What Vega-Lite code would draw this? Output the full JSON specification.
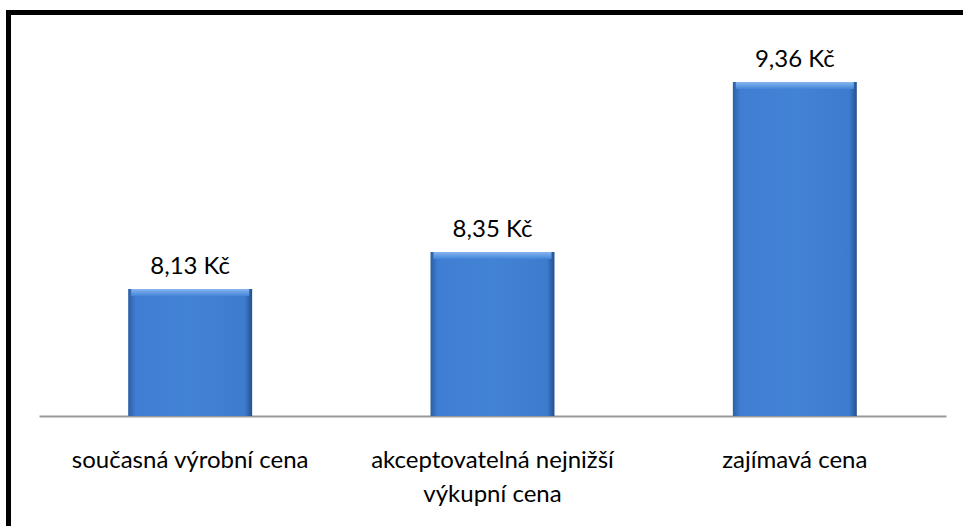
{
  "$schema": "https://vega.github.io/schema/vega-lite/v6.json",
  "width": 954.5,
  "height": 513.5,
  "autosize": {"type": "none"},
  "padding": {"left": 8.5, "top": 12.5, "right": 0, "bottom": 0},
  "background": "white",
  "config": {
    "view": {"stroke": "black", "strokeWidth": 5, "strokeDash": [954.5, 1468, 513.5, 0], "strokeCap": "square"},
    "locale": {"number": {"decimal": ",", "thousands": " ", "grouping": [3], "currency": ["", " Kč"]}},
    "font": "Lato"
  },
  "data": {
    "values": [
      {"kategorie": "současná výrobní cena", "cena": 8.13},
      {"kategorie": "akceptovatelná nejnižší výkupní cena", "cena": 8.35},
      {"kategorie": "zajímavá cena", "cena": 9.36}
    ]
  },
  "encoding": {
    "x": {
      "field": "kategorie",
      "type": "nominal",
      "sort": null,
      "scale": {"range": [30.5, 937.5], "paddingInner": 0.59, "paddingOuter": 0.295},
      "axis": {
        "title": null,
        "orient": "bottom",
        "offset": -110,
        "ticks": false,
        "tickSize": 0,
        "grid": false,
        "domainColor": "#9a9a9a",
        "domainWidth": 2,
        "labelFont": "Lato",
        "labelFontSize": 24,
        "labelColor": "black",
        "labelPadding": 51,
        "labelBaseline": "alphabetic",
        "labelLineHeight": 34,
        "labelAngle": 0,
        "labelLimit": 0,
        "labelOverlap": false,
        "labelFlush": false,
        "labelExpr": "datum.value == 'akceptovatelná nejnižší výkupní cena' ? ['akceptovatelná nejnižší', 'výkupní cena'] : datum.value"
      }
    }
  },
  "layer": [
    {
      "mark": {
        "type": "bar",
        "fill": {
          "gradient": "linear",
          "x1": 0, "y1": 0, "x2": 1, "y2": 0,
          "stops": [
            {"offset": 0, "color": "#2c5ea6"},
            {"offset": 0.06, "color": "#3f7ed2"},
            {"offset": 0.5, "color": "#4383d6"},
            {"offset": 0.94, "color": "#3d7bcd"},
            {"offset": 1, "color": "#24508f"}
          ]
        }
      },
      "encoding": {
        "y": {
          "field": "cena",
          "type": "quantitative",
          "scale": {"domain": [6.7214, 9.7725], "zero": false, "nice": false},
          "axis": null
        },
        "y2": {"datum": 7.375}
      }
    },
    {
      "mark": {
        "type": "tick",
        "size": 118,
        "thickness": 7,
        "yOffset": 3.5,
        "fill": {
          "gradient": "linear",
          "x1": 0, "y1": 0, "x2": 0, "y2": 1,
          "stops": [
            {"offset": 0, "color": "#86b6f0"},
            {"offset": 1, "color": "#4586d8"}
          ]
        },
        "opacity": 1
      },
      "encoding": {
        "y": {"field": "cena", "type": "quantitative"}
      }
    },
    {
      "mark": {"type": "text", "dy": -15, "baseline": "alphabetic", "fontSize": 24, "color": "black", "font": "Lato"},
      "encoding": {
        "y": {"field": "cena", "type": "quantitative"},
        "text": {"field": "cena", "type": "quantitative", "format": "$.2f"}
      }
    }
  ]
}
